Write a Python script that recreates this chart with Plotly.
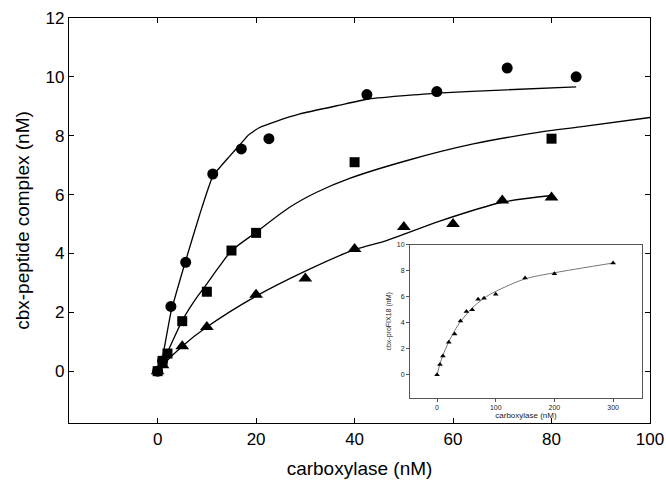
import plotly.graph_objects as go

# Measured binding data (nM)
circ_x = [0, 1, 2.7, 5.7, 11.2, 17, 22.6, 42.5, 56.7, 71, 85]
circ_y = [0, 0.35, 2.2, 3.7, 6.7, 7.55, 7.9, 9.4, 9.5, 10.3, 10.0]

sq_x = [0, 1, 2, 5, 10, 15, 20, 40, 80]
sq_y = [0, 0.35, 0.6, 1.7, 2.7, 4.1, 4.7, 7.1, 7.9]

tri_x = [0, 1, 5, 10, 20, 30, 40, 50, 60, 70, 80]
tri_y = [0, 0.2, 0.85, 1.5, 2.6, 3.15, 4.15, 4.9, 5.0, 5.8, 5.9]

# Fitted curves
circ_fit_x = [0, 0.8, 2.7, 5.6, 8.5, 11.2, 14.6, 17, 18.4, 20.7, 24.1, 28.9, 37, 42.5, 56.7, 70.9, 85]
circ_fit_y = [0, 0.32, 2.0, 3.7, 5.3, 6.62, 7.3, 7.75, 8.02, 8.28, 8.49, 8.74, 9.04, 9.24, 9.45, 9.56, 9.66]

sq_fit_x = [0, 1, 2, 5, 7.5, 10, 12.5, 15, 20, 26.8, 32.3, 39, 50.5, 64.1, 77.6, 85.8, 100]
sq_fit_y = [0, 0.35, 0.65, 1.72, 2.4, 2.97, 3.55, 4.09, 4.72, 5.57, 6.08, 6.55, 7.15, 7.72, 8.12, 8.3, 8.62]

tri_fit_x = [0, 1, 5, 10, 20, 30, 40, 46.5, 57.3, 70, 80]
tri_fit_y = [0, 0.2, 0.85, 1.5, 2.55, 3.4, 4.13, 4.44, 5.1, 5.74, 5.97]

# Extended titration (inset)
ins_x = [0, 5, 10, 20, 30, 40, 50, 60, 70, 80, 100, 150, 200, 300]
ins_y = [0, 0.8, 1.46, 2.5, 3.15, 4.15, 4.87, 5.0, 5.82, 5.9, 6.2, 7.44, 7.77, 8.6]
ins_fit_x = [0, 5, 10, 20, 30, 40, 50, 60, 80, 100, 150, 200, 300]
ins_fit_y = [0, 0.85, 1.5, 2.55, 3.4, 4.1, 4.65, 5.15, 5.9, 6.42, 7.38, 7.85, 8.6]

x_ticks = [0, 20, 40, 60, 80, 100]
y_ticks = [0, 2, 4, 6, 8, 10, 12]
ins_x_ticks = [0, 100, 200, 300]
ins_y_ticks = [0, 2, 4, 6, 8, 10]

FONT = "Liberation Sans, Arial, Helvetica, sans-serif"
LINE = dict(color="black", width=1.3)

fig = go.Figure()

for fx, fy, sm in [(circ_fit_x, circ_fit_y, 0.4), (sq_fit_x, sq_fit_y, 0.8),
                   (tri_fit_x, tri_fit_y, 0.8)]:
    fig.add_trace(go.Scatter(x=fx, y=fy, mode="lines",
                             line=dict(**LINE, shape="spline", smoothing=sm),
                             hoverinfo="skip"))

fig.add_trace(go.Scatter(x=circ_x, y=circ_y, mode="markers",
                         marker=dict(symbol="circle", size=11, color="black")))
fig.add_trace(go.Scatter(x=sq_x, y=sq_y, mode="markers",
                         marker=dict(symbol="square", size=10, color="black")))
fig.add_trace(go.Scatter(x=tri_x, y=tri_y, mode="markers",
                         marker=dict(symbol="triangle-up", size=12, color="black")))

# Inset
fig.add_trace(go.Scatter(x=ins_fit_x, y=ins_fit_y, mode="lines",
                         line=dict(color="#666666", width=0.9, shape="spline", smoothing=0.8),
                         xaxis="x2", yaxis="y2", hoverinfo="skip"))
fig.add_trace(go.Scatter(x=ins_x, y=ins_y, mode="markers",
                         marker=dict(symbol="triangle-up", size=5, color="black"),
                         xaxis="x2", yaxis="y2"))

axis_common = dict(showgrid=False, zeroline=False, showline=True, linecolor="black",
                   linewidth=1.3, mirror="ticks", ticks="inside", ticklen=5,
                   tickcolor="black", tickwidth=1, automargin=False,
                   tickfont=dict(family=FONT, size=17, color="black"))

inset_common = dict(showgrid=False, zeroline=False, showline=True, linecolor="#555555",
                    linewidth=1, mirror=True, ticks="outside", ticklen=3, tickwidth=0.8,
                    tickcolor="#555555", automargin=False,
                    tickfont=dict(family=FONT, size=7, color="#222222"))

fig.update_layout(
    width=666, height=485,
    margin=dict(l=69, r=16, t=18, b=62, autoexpand=False),
    paper_bgcolor="white", plot_bgcolor="white",
    showlegend=False,
    font=dict(family=FONT, color="black"),
    xaxis=dict(**axis_common, range=[-18, 100], tickvals=x_ticks,
               domain=[0, 1],
               title=dict(text="carboxylase (nM)", font=dict(family=FONT, size=19),
                          standoff=14)),
    yaxis=dict(**axis_common, range=[-1.76, 12], tickvals=y_ticks,
               domain=[0, 1],
               title=dict(text="cbx-peptide complex (nM)", font=dict(family=FONT, size=19),
                          standoff=10)),
    xaxis2=dict(**inset_common, range=[-46, 349], tickvals=ins_x_ticks,
                domain=[0.587, 0.986], anchor="y2",
                title=dict(text="carboxylase (nM)", font=dict(family=FONT, size=8, color="#222222"),
                           standoff=2)),
    yaxis2=dict(**inset_common, range=[-1.77, 10], tickvals=ins_y_ticks,
                domain=[0.062, 0.44], anchor="x2",
                title=dict(text="cbx-proFIX18 (nM)", font=dict(family=FONT, size=7, color="#222222"),
                           standoff=4)),
)

fig.write_html("out.html")
